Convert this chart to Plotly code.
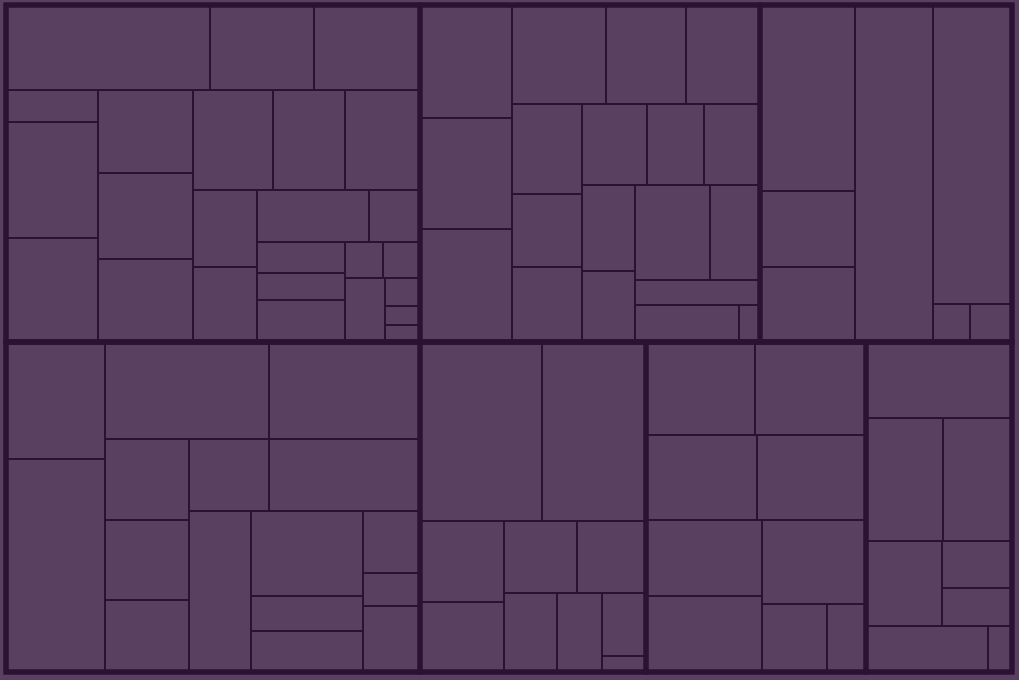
import plotly.graph_objects as go

FILL = "#5a4060"
EDGE = "#2b1234"

# Each group: (path inside group, own value = cell area). Internal nodes carry 0.
G1 = [
    ("a", 0), ("a/1", 17340), ("a/2", 8840), ("a/3", 9010),
    ("b", 0),
    ("b/1", 0), ("b/1/1", 2944), ("b/1/2", 10672), ("b/1/3", 9568),
    ("b/2", 0), ("b/2/1", 7885), ("b/2/2", 8170), ("b/2/3", 7885),
    ("b/3", 0),
    ("b/3/1", 0), ("b/3/1/1", 8000), ("b/3/1/2", 7200), ("b/3/1/3", 7500),
    ("b/3/2", 0),
    ("b/3/2/1", 0), ("b/3/2/1/1", 4928), ("b/3/2/1/2", 4800),
    ("b/3/2/2", 0),
    ("b/3/2/2/1", 0), ("b/3/2/2/1/1", 5824), ("b/3/2/2/1/2", 2652),
    ("b/3/2/2/2", 0),
    ("b/3/2/2/2/1", 0), ("b/3/2/2/2/1/1", 2728), ("b/3/2/2/2/1/2", 2376), ("b/3/2/2/2/1/3", 3696),
    ("b/3/2/2/2/2", 0),
    ("b/3/2/2/2/2/1", 0), ("b/3/2/2/2/2/1/1", 1368), ("b/3/2/2/2/2/1/2", 1332),
    ("b/3/2/2/2/2/2", 0), ("b/3/2/2/2/2/2/1", 2560),
    ("b/3/2/2/2/2/2/2", 0), ("b/3/2/2/2/2/2/2/1", 980), ("b/3/2/2/2/2/2/2/2", 665),
    ("b/3/2/2/2/2/2/2/3", 595),
]

G2 = [
    ("w", 0),
    ("w/L", 0), ("w/L/1", 10396), ("w/L/2", 10212), ("w/L/3", 10396),
    ("w/R", 0),
    ("w/R/1", 0), ("w/R/1/1", 9306), ("w/R/1/2", 7920), ("w/R/1/3", 7326),
    ("w/R/2", 0),
    ("w/R/2/a", 0), ("w/R/2/a/1", 6300), ("w/R/2/a/2", 5110), ("w/R/2/a/3", 5250),
    ("w/R/2/b", 0),
    ("w/R/2/b/1", 0), ("w/R/2/b/1/1", 5265), ("w/R/2/b/1/2", 4617), ("w/R/2/b/1/3", 4536),
    ("w/R/2/b/2", 0),
    ("w/R/2/b/2/c", 0), ("w/R/2/b/2/c/1", 4558), ("w/R/2/b/2/c/2", 3763),
    ("w/R/2/b/2/d", 0),
    ("w/R/2/b/2/d/1", 0), ("w/R/2/b/2/d/1/1", 7125), ("w/R/2/b/2/d/1/2", 4750),
    ("w/R/2/b/2/d/2", 3125),
    ("w/R/2/b/2/d/3", 0), ("w/R/2/b/2/d/3/1", 3848), ("w/R/2/b/2/d/3/2", 777),
]

G3 = [
    ("w", 0),
    ("w/1", 0), ("w/1/1", 17670), ("w/1/2", 7220), ("w/1/3", 7125),
    ("w/2", 26286),
    ("w/3", 0), ("w/3/1", 23621), ("w/3/2", 0), ("w/3/2/1", 1406), ("w/3/2/2", 1596),
]

G4 = [
    ("w", 0),
    ("w/L", 0), ("w/L/1", 11583), ("w/L/2", 21087),
    ("w/R", 0),
    ("w/R/1", 0), ("w/R/1/1", 15908), ("w/R/1/2", 14647),
    ("w/R/2", 0),
    ("w/R/2/a", 0), ("w/R/2/a/1", 6804), ("w/R/2/a/2", 6720), ("w/R/2/a/3", 6048),
    ("w/R/2/b", 0),
    ("w/R/2/b/1", 0), ("w/R/2/b/1/1", 5760), ("w/R/2/b/1/2", 10872),
    ("w/R/2/b/2", 0), ("w/R/2/b/2/1", 9982),
    ("w/R/2/b/2/c", 0), ("w/R/2/b/2/c/1", 9520), ("w/R/2/b/2/c/2", 3920), ("w/R/2/b/2/c/3", 4592),
    ("w/R/2/b/2/d", 0), ("w/R/2/b/2/d/1", 3534), ("w/R/2/b/2/d/2", 1881), ("w/R/2/b/2/d/3", 3762),
]

G5 = [
    ("T", 0), ("T/1", 21838), ("T/2", 18616),
    ("B", 0),
    ("B/a", 0), ("B/a/1", 6804), ("B/a/2", 5880),
    ("B/b", 0),
    ("B/b/1", 0), ("B/b/1/1", 5256), ("B/b/1/2", 4968),
    ("B/b/2", 0), ("B/b/2/1", 4187), ("B/b/2/2", 3555),
    ("B/b/2/c", 0), ("B/b/2/c/1", 2772), ("B/b/2/c/2", 704),
]

G6 = [
    ("r1", 0), ("r1/1", 10137), ("r1/2", 10323),
    ("r2", 0), ("r2/1", 9435), ("r2/2", 9265),
    ("r3", 0),
    ("r3/a", 0), ("r3/a/1", 8816), ("r3/a/2", 8816),
    ("r3/b", 0), ("r3/b/1", 8736), ("r3/b/c", 0), ("r3/b/c/1", 4420), ("r3/b/c/2", 2652),
]

G7 = [
    ("1", 11096),
    ("r2", 0), ("r2/1", 9471), ("r2/2", 8487),
    ("r3", 0), ("r3/1", 6460), ("r3/c", 0), ("r3/c/1", 3290), ("r3/c/2", 2660),
    ("r4", 0), ("r4/1", 5612), ("r4/2", 1104),
]

ROWS = {"top": ["G1", "G2", "G3"], "bottom": ["G4", "G5", "G6", "G7"]}
GROUPS = {"G1": G1, "G2": G2, "G3": G3, "G4": G4, "G5": G5, "G6": G6, "G7": G7}

# ---- full hierarchy (cells) ----
ids, parents, values = ["all"], [""], [0]
for row, gnames in ROWS.items():
    ids.append(row); parents.append("all"); values.append(0)
    for g in gnames:
        ids.append(g); parents.append(row); values.append(0)
        for path, v in GROUPS[g]:
            full = g + "/" + path
            par = full.rsplit("/", 1)[0]
            ids.append(full); parents.append(par); values.append(v)

# ---- group outline hierarchy ----
gids, gparents, gvalues = ["all"], [""], [0]
for row, gnames in ROWS.items():
    gids.append(row); gparents.append("all"); gvalues.append(0)
    for g in gnames:
        gids.append(g); gparents.append(row)
        gvalues.append(sum(v for _, v in GROUPS[g]))

common = dict(
    branchvalues="remainder",
    sort=False,
    textinfo="none",
    hoverinfo="skip",
    tiling=dict(packing="dice-slice", pad=0),
    pathbar=dict(visible=False),
    maxdepth=-1,
)

fig = go.Figure()
fig.add_trace(go.Treemap(
    ids=ids, labels=ids, parents=parents, values=values,
    marker=dict(colors=[FILL] * len(ids), line=dict(color=EDGE, width=2),
                pad=dict(t=0, l=0, r=0, b=0), depthfade=False),
    root=dict(color=FILL),
    **common,
))
fig.add_trace(go.Treemap(
    ids=gids, labels=gids, parents=gparents, values=gvalues,
    marker=dict(colors=["rgba(0,0,0,0)"] * len(gids), line=dict(color=EDGE, width=5),
                pad=dict(t=0, l=0, r=0, b=0), depthfade=False),
    root=dict(color="rgba(0,0,0,0)"),
    **common,
))

fig.update_layout(
    width=1019, height=680,
    margin=dict(l=6, r=7, t=5, b=8),
    paper_bgcolor=FILL, plot_bgcolor=FILL,
    showlegend=False,
)

fig.write_html("out.html")
